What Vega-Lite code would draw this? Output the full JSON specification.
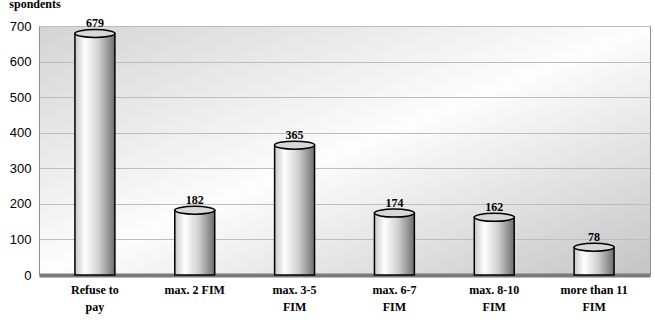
{
  "$schema": "https://vega.github.io/schema/vega-lite/v6.json",
  "width": 655,
  "height": 327,
  "autosize": {"type": "fit", "contains": "padding"},
  "padding": {"left": 9, "right": 5, "top": 0, "bottom": 15},
  "background": "white",
  "title": {
    "text": "spondents",
    "anchor": "start",
    "frame": "bounds",
    "font": "Liberation Serif",
    "fontSize": 12,
    "fontWeight": "bold",
    "color": "black",
    "offset": -4,
    "dy": -10
  },
  "data": {
    "values": [
      {"category": "Refuse to pay", "value": 679},
      {"category": "max. 2 FIM", "value": 182},
      {"category": "max. 3-5 FIM", "value": 365},
      {"category": "max. 6-7 FIM", "value": 174},
      {"category": "max. 8-10 FIM", "value": 162},
      {"category": "more than 11 FIM", "value": 78}
    ]
  },
  "config": {
    "view": {
      "stroke": "#909090",
      "strokeWidth": 1,
      "fill": {
        "gradient": "linear",
        "x1": 0, "y1": 0, "x2": 1, "y2": 1,
        "stops": [
          {"offset": 0, "color": "#d4d4d4"},
          {"offset": 0.5, "color": "#fdfdfd"},
          {"offset": 1, "color": "#c4c4c4"}
        ]
      }
    }
  },
  "encoding": {
    "x": {
      "field": "category",
      "type": "nominal",
      "sort": null,
      "scale": {"paddingInner": 0.6, "paddingOuter": 0.36},
      "axis": {
        "title": null,
        "labelAngle": 0,
        "labelFont": "Liberation Serif",
        "labelFontWeight": "bold",
        "labelFontSize": 12,
        "labelColor": "black",
        "labelPadding": 9,
        "labelLineHeight": 17,
        "ticks": false,
        "domainColor": "#7a7a7a",
        "domainWidth": 4,
        "labelExpr": "datum.label == 'Refuse to pay' ? ['Refuse to', 'pay'] : datum.label == 'max. 3-5 FIM' ? ['max. 3-5', 'FIM'] : datum.label == 'max. 6-7 FIM' ? ['max. 6-7', 'FIM'] : datum.label == 'max. 8-10 FIM' ? ['max. 8-10', 'FIM'] : datum.label == 'more than 11 FIM' ? ['more than 11', 'FIM'] : datum.label"
      }
    },
    "y": {
      "field": "value",
      "type": "quantitative",
      "scale": {"domain": [0, 700], "nice": false},
      "axis": {
        "title": null,
        "values": [0, 100, 200, 300, 400, 500, 600, 700],
        "labelFont": "Liberation Sans",
        "labelFontSize": 13,
        "labelColor": "black",
        "labelPadding": 8,
        "ticks": false,
        "domainColor": "#909090",
        "gridColor": "#bdbdbd",
        "gridWidth": 1
      }
    }
  },
  "layer": [
    {
      "mark": {
        "type": "bar",
        "stroke": "black",
        "strokeWidth": 1.5,
        "fill": {
          "gradient": "linear",
          "x1": 0, "y1": 0, "x2": 1, "y2": 0,
          "stops": [
            {"offset": 0, "color": "#c8c8c8"},
            {"offset": 0.25, "color": "#ffffff"},
            {"offset": 0.6, "color": "#cfcfcf"},
            {"offset": 1, "color": "#6e6e6e"}
          ]
        }
      }
    },
    {
      "mark": {
        "type": "point",
        "shape": "M -1 0 A 1 0.2 0 1 1 1 0 A 1 0.2 0 1 1 -1 0 Z",
        "size": 1600,
        "filled": true,
        "fill": "#d8d8d8",
        "stroke": "black",
        "strokeWidth": 1.5,
        "opacity": 1
      }
    },
    {
      "mark": {
        "type": "text",
        "dy": -10,
        "font": "Liberation Serif",
        "fontWeight": "bold",
        "fontSize": 12,
        "color": "black"
      },
      "encoding": {"text": {"field": "value", "type": "quantitative"}}
    }
  ]
}
